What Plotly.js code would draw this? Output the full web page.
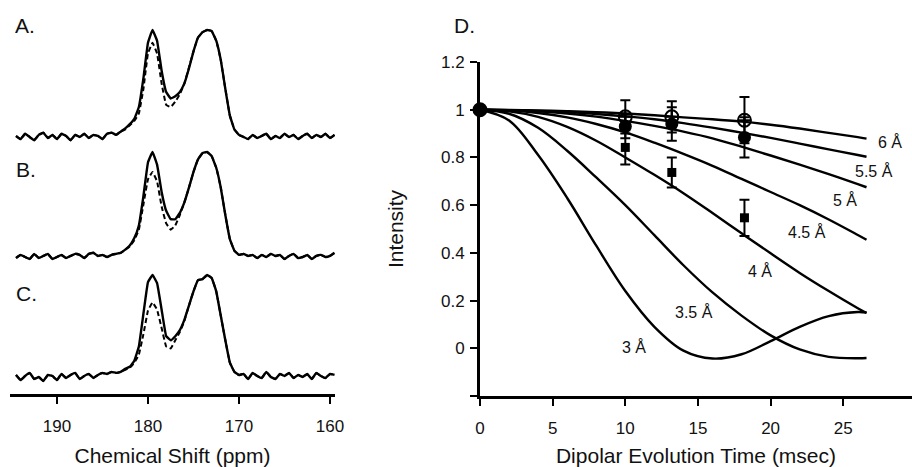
<!DOCTYPE html>
<html><head><meta charset="utf-8">
<script src="https://cdn.plot.ly/plotly-3.0.1.min.js"></script>
<style>html,body{margin:0;padding:0;background:#fff}#chart{width:912px;height:467px}</style>
</head><body><div id="chart"></div>
<script>
// ---------- DATA ----------
const ppm = [194.5,194,193.5,193,192.5,192,191.5,191,190.5,190,189.5,189,188.5,188,187.5,187,186.5,186,185.5,185,184.5,184,183.5,183,182.5,182,181.5,181,180.5,180,179.5,179,178.5,178,177.5,177,176.5,176,175.5,175,174.5,174,173.5,173,172.5,172,171.5,171,170.5,170,169.5,169,168.5,168,167.5,167,166.5,166,165.5,165,164.5,164,163.5,163,162.5,162,161.5,161,160.5,160,159.5];

const specASolid = [0.01,-0.02,0.03,0.00,-0.03,0.02,0.04,-0.01,0.02,-0.02,0.03,0.01,-0.03,0.02,0.00,0.03,-0.01,0.02,0.01,-0.02,0.03,0.04,0.02,
  0.05,0.08,0.12,0.17,0.28,0.55,0.88,1.00,0.90,0.62,0.42,0.36,0.38,0.42,0.50,0.64,0.80,0.93,0.98,1.00,0.99,0.90,0.72,0.45,0.20,0.07,0.02,
  0.00,-0.02,0.02,-0.01,0.01,0.03,-0.02,0.01,-0.01,0.03,0.00,0.02,-0.02,0.01,0.03,-0.01,0.02,0.00,0.03,-0.01,0.02];
const specADashed = [0.01,-0.02,0.03,0.00,-0.03,0.02,0.04,-0.01,0.02,-0.02,0.03,0.01,-0.03,0.02,0.00,0.03,-0.01,0.02,0.01,-0.02,0.03,0.04,0.02,
  0.05,0.07,0.11,0.15,0.22,0.45,0.78,0.88,0.78,0.50,0.30,0.28,0.33,0.40,0.50,0.65,0.80,0.93,0.98,1.00,0.99,0.90,0.72,0.45,0.20,0.07,0.02,
  0.00,-0.02,0.02,-0.01,0.01,0.03,-0.02,0.01,-0.01,0.03,0.00,0.02,-0.02,0.01,0.03,-0.01,0.02,0.00,0.03,-0.01,0.02];

const specBSolid = [-0.01,0.02,0.00,-0.02,0.03,-0.01,0.01,0.03,-0.02,0.00,0.02,-0.01,0.01,0.03,0.02,-0.01,0.03,0.04,0.01,0.02,0.00,0.02,0.03,
  0.04,0.07,0.11,0.18,0.30,0.58,0.90,1.00,0.88,0.62,0.44,0.36,0.36,0.42,0.52,0.66,0.81,0.93,0.99,1.00,0.96,0.85,0.66,0.40,0.17,0.06,0.02,
  0.03,0.01,0.02,-0.01,0.02,0.00,0.03,0.01,0.02,-0.02,0.01,0.03,-0.01,0.00,0.02,-0.02,0.01,0.02,0.00,0.01,0.04];
const specBDashed = [-0.01,0.02,0.00,-0.02,0.03,-0.01,0.01,0.03,-0.02,0.00,0.02,-0.01,0.01,0.03,0.02,-0.01,0.03,0.04,0.01,0.02,0.00,0.02,0.03,
  0.04,0.07,0.10,0.16,0.26,0.50,0.74,0.81,0.72,0.48,0.32,0.26,0.30,0.40,0.52,0.66,0.81,0.93,0.99,1.00,0.96,0.85,0.66,0.40,0.17,0.06,0.02,
  0.03,0.01,0.02,-0.01,0.02,0.00,0.03,0.01,0.02,-0.02,0.01,0.03,-0.01,0.00,0.02,-0.02,0.01,0.02,0.00,0.01,0.04];

const specCSolid = [0.02,-0.03,0.01,0.04,-0.02,0.00,-0.04,0.02,0.01,-0.03,0.03,-0.01,0.02,0.04,-0.02,0.01,0.03,-0.01,0.02,0.04,0.03,0.05,0.04,
  0.05,0.08,0.10,0.16,0.30,0.62,0.93,1.00,0.92,0.66,0.40,0.36,0.40,0.46,0.56,0.70,0.84,0.95,0.96,1.00,0.97,0.84,0.60,0.36,0.14,0.05,0.02,
  0.03,-0.02,0.04,0.01,-0.01,0.05,0.00,-0.02,0.03,0.01,0.04,-0.01,0.02,0.00,0.03,-0.02,0.04,0.01,-0.01,0.03,0.02];
const specCDashed = [0.02,-0.03,0.01,0.04,-0.02,0.00,-0.04,0.02,0.01,-0.03,0.03,-0.01,0.02,0.04,-0.02,0.01,0.03,-0.01,0.02,0.04,0.03,0.05,0.04,
  0.05,0.07,0.09,0.14,0.22,0.42,0.65,0.73,0.66,0.48,0.30,0.28,0.36,0.44,0.55,0.70,0.84,0.95,0.96,1.00,0.97,0.84,0.60,0.36,0.14,0.05,0.02,
  0.03,-0.02,0.04,0.01,-0.01,0.05,0.00,-0.02,0.03,0.01,0.04,-0.01,0.02,0.00,0.03,-0.02,0.04,0.01,-0.01,0.03,0.02];

const simTime = [0,2,4,6,8,10,12,14,16,18,20,22,24,26,26.6];
const sim3A  = [1,0.955,0.81,0.63,0.43,0.24,0.09,-0.01,-0.043,-0.025,0.03,0.09,0.135,0.152,0.15];
const sim35A = [1,0.983,0.924,0.828,0.716,0.60,0.474,0.348,0.234,0.137,0.054,-0.005,-0.036,-0.042,-0.041];
const sim4A  = [1,0.993,0.97,0.928,0.87,0.80,0.727,0.65,0.567,0.482,0.398,0.316,0.24,0.168,0.148];
const sim45A = [1,0.996,0.986,0.968,0.94,0.905,0.862,0.815,0.765,0.71,0.655,0.60,0.54,0.475,0.455];
const sim5A  = [1,0.998,0.993,0.984,0.971,0.953,0.932,0.908,0.88,0.845,0.808,0.77,0.73,0.688,0.675];
const sim55A = [1,0.998,0.995,0.99,0.982,0.972,0.96,0.944,0.925,0.904,0.882,0.858,0.834,0.81,0.803];
const sim6A  = [1,0.999,0.997,0.994,0.99,0.984,0.977,0.968,0.96,0.95,0.937,0.921,0.903,0.885,0.879];
const distanceLabels = ['3 Å','3.5 Å','4 Å','4.5 Å','5 Å','5.5 Å','6 Å'];

const expTime = [0,10,13.2,18.2];
const openI = [1,0.97,0.97,0.956];
const openErr = [0,0.07,0.066,0.097];
const filledI = [1,0.93,0.94,0.884];
const filledErr = [0,0.05,0.07,0.084];
const squareI = [1,0.842,0.737,0.547];
const squareErr = [0,0.072,0.063,0.076];

const panelLabels = ['A.','B.','C.','D.'];
const shiftTicks = [190,180,170,160];
const timeTicks = [0,5,10,15,20,25];
const intensityTicks = [-0.2,0,0.2,0.4,0.6,0.8,1,1.2];
const intensityTickText = ['','0','0.2','0.4','0.6','0.8','1','1.2'];

// ---------- TRACES ----------
const FONT = 'Liberation Sans, Arial, Helvetica, sans-serif';
const traces = [];
const specPairs = [[specASolid, specADashed, 'y'], [specBSolid, specBDashed, 'y2'], [specCSolid, specCDashed, 'y3']];
specPairs.forEach(([solid, dashed, ya]) => {
  traces.push({x: ppm, y: solid, xaxis: 'x', yaxis: ya, mode: 'lines', line: {color: '#000', width: 2.4, shape: 'spline', smoothing: 0.25}, hoverinfo: 'skip'});
  traces.push({x: ppm, y: dashed, xaxis: 'x', yaxis: ya, mode: 'lines', line: {color: '#000', width: 2, dash: '5px,3px', shape: 'spline', smoothing: 0.25}, hoverinfo: 'skip'});
});
[sim3A, sim35A, sim4A, sim45A, sim5A, sim55A, sim6A].forEach(s => {
  traces.push({x: simTime, y: s, xaxis: 'x2', yaxis: 'y4', mode: 'lines', line: {color: '#000', width: 2.4, shape: 'spline', smoothing: 1}, hoverinfo: 'skip'});
});
const errStyle = {type: 'data', color: '#000', thickness: 2, width: 5};
traces.push({x: expTime, y: openI, xaxis: 'x2', yaxis: 'y4', mode: 'markers', cliponaxis: false,
  marker: {symbol: 'circle-cross-open', size: 13, color: '#000', line: {width: 2, color: '#000'}},
  error_y: Object.assign({array: openErr}, errStyle)});
traces.push({x: expTime, y: filledI, xaxis: 'x2', yaxis: 'y4', mode: 'markers', cliponaxis: false,
  marker: {symbol: 'circle', size: 13, color: '#000'},
  error_y: Object.assign({array: filledErr}, errStyle)});
traces.push({x: expTime, y: squareI, xaxis: 'x2', yaxis: 'y4', mode: 'markers', cliponaxis: false,
  marker: {symbol: 'square', size: 9, color: '#000'},
  error_y: Object.assign({array: squareErr}, errStyle)});

// ---------- LAYOUT ----------
const W = 912, H = 467;
const py = p => 1 - p / H;   // pixel row -> paper y
const px = p => p / W;       // pixel col -> paper x

const axisCommon = {showgrid: false, zeroline: false, showline: true, linecolor: '#000', linewidth: 3,
  ticks: 'outside', ticklen: 7, tickwidth: 2, tickcolor: '#000',
  tickfont: {family: FONT, size: 17, color: '#111'}};
const hiddenY = {visible: false, range: [-0.2, 1.1], fixedrange: true};

const labelPos = [[10.6,0.004],[14.73,0.152],[19.27,0.324],[22.5,0.486],[25.1,0.62],[27.1,0.745],[28.25,0.865]];
const annotations = distanceLabels.map((t, i) => ({text: t, x: labelPos[i][0], y: labelPos[i][1], xref: 'x2', yref: 'y4',
  showarrow: false, xanchor: 'center', yanchor: 'middle', font: {family: FONT, size: 16, color: '#111'}}));
const panelPos = [[13, 26], [14, 169], [14, 293], [452, 26]];
panelLabels.forEach((t, i) => annotations.push({text: t, x: px(panelPos[i][0]), y: py(panelPos[i][1]), xref: 'paper', yref: 'paper',
  showarrow: false, xanchor: 'left', yanchor: 'middle', font: {family: FONT, size: 21, color: '#111'}}));

const layout = {
  width: W, height: H, margin: {l: 0, r: 0, t: 0, b: 0}, paper_bgcolor: '#fff', plot_bgcolor: 'rgba(0,0,0,0)',
  showlegend: false, font: {family: FONT, color: '#111'},
  xaxis: Object.assign({}, axisCommon, {domain: [px(10), px(335)], range: [195.16, 159.45], anchor: 'free', position: py(395),
    tickvals: shiftTicks, ticktext: shiftTicks.map(String), ticklabelstandoff: 8,
    title: {text: 'Chemical Shift (ppm)', font: {family: FONT, size: 21, color: '#111'}, standoff: 19}}),
  yaxis: Object.assign({}, hiddenY, {domain: [py(158.4), py(19.3)], anchor: 'x'}),
  yaxis2: Object.assign({}, hiddenY, {domain: [py(278), py(141.5)], anchor: 'x'}),
  yaxis3: Object.assign({}, hiddenY, {domain: [py(397.4), py(264.8)], anchor: 'x'}),
  xaxis2: Object.assign({}, axisCommon, {domain: [px(480), 1], range: [0, 29.73], anchor: 'y4',
    tickvals: timeTicks, ticktext: timeTicks.map(String), ticklabelstandoff: 8,
    title: {text: 'Dipolar Evolution Time (msec)', font: {family: FONT, size: 21, color: '#111'}, standoff: 19}}),
  yaxis4: Object.assign({}, axisCommon, {domain: [py(396), py(62)], range: [-0.2, 1.2], anchor: 'x2',
    tickvals: intensityTicks, ticktext: intensityTickText, ticklabelstandoff: 2,
    title: {text: 'Intensity', font: {family: FONT, size: 21, color: '#111'}, standoff: 32}}),
  annotations: annotations
};
Plotly.newPlot('chart', traces, layout, {staticPlot: true, displayModeBar: false});
</script></body></html>
